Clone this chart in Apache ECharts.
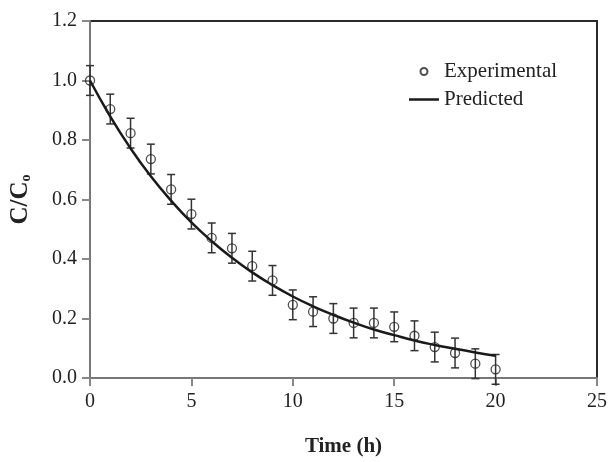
<!DOCTYPE html>
<html>
<head>
<meta charset="utf-8">
<script src="https://cdn.jsdelivr.net/npm/echarts@6/dist/echarts.min.js"></script>
<style>html,body{margin:0;padding:0;background:#fff}#c{width:610px;height:462px}</style>
</head>
<body>
<div id="c"></div>
<script>
const times = [0,1,2,3,4,5,6,7,8,9,10,11,12,13,14,15,16,17,18,19,20];
const experimental = [1.000,0.904,0.823,0.736,0.634,0.551,0.471,0.436,0.376,0.328,0.246,0.223,0.200,0.185,0.185,0.172,0.142,0.104,0.084,0.048,0.029];
const errors = [0.05,0.05,0.05,0.05,0.05,0.05,0.05,0.05,0.05,0.05,0.05,0.05,0.05,0.05,0.05,0.05,0.05,0.05,0.05,0.05,0.05];
const predicted = [1.000,0.879,0.772,0.678,0.596,0.523,0.460,0.404,0.355,0.312,0.274,0.241,0.212,0.186,0.163,0.144,0.126,0.111,0.098,0.086,0.075];
const xTicks = [0,5,10,15,20,25];
const yTicks = [0.0,0.2,0.4,0.6,0.8,1.0,1.2];

const font = 'Liberation Serif';
const chart = echarts.init(document.getElementById('c'), null, {renderer:'canvas'});
const option = {
  backgroundColor:'#fff',
  animation:false,
  grid:{left:87,right:11,top:21,bottom:71,show:true,borderColor:'#2a2a2a',borderWidth:2,backgroundColor:'transparent'},
  legend:{
    orient:'vertical', left:404, top:56, itemWidth:30, itemHeight:7, itemGap:7,
    textStyle:{fontFamily:font,fontSize:21,color:'#222'},
    data:[{name:'Experimental',icon:'emptyCircle',itemStyle:{color:'#222',borderColor:'#222',borderWidth:1.2}},
          {name:'Predicted',icon:'path://M0,0H0.01V0.01H0Z M0,2.3H30V4.7H0Z M0,7H0.01V7.01H0Z',itemStyle:{color:'#1a1a1a'}}]
  },
  xAxis:{
    type:'value', min:xTicks[0], max:xTicks[xTicks.length-1], interval:5,
    name:'Time (h)', nameLocation:'middle', nameGap:58,
    nameTextStyle:{fontFamily:font,fontSize:21,fontWeight:'bold',color:'#222'},
    axisLine:{show:true,lineStyle:{color:'#777',width:2}},
    axisTick:{show:true,length:8,lineStyle:{color:'#888',width:2}},
    axisLabel:{fontFamily:font,fontSize:20,color:'#222',margin:14},
    splitLine:{show:false}
  },
  yAxis:{
    type:'value', min:yTicks[0], max:yTicks[yTicks.length-1], interval:0.2,
    name:'C/C{s|o}', nameLocation:'middle', nameGap:57,
    nameTextStyle:{fontFamily:font,fontSize:25,fontWeight:'bold',color:'#222',
      rich:{s:{fontFamily:font,fontSize:14,fontWeight:'bold',color:'#222',verticalAlign:'bottom',padding:[9,0,0,0]}}},
    axisLine:{show:true,lineStyle:{color:'#777',width:2}},
    axisTick:{show:true,length:8,lineStyle:{color:'#888',width:2}},
    axisLabel:{fontFamily:font,fontSize:20,color:'#222',margin:13,formatter:v=>v.toFixed(1)},
    splitLine:{show:false}
  },
  series:[
    {
      name:'errorbars', type:'custom',
      data: times.map((t,i)=>[t, experimental[i]-errors[i], experimental[i]+errors[i]]),
      renderItem:function(params, api){
        const lo = api.coord([api.value(0), api.value(1)]);
        const hi = api.coord([api.value(0), api.value(2)]);
        const w = 4;
        const st = {stroke:'#333', lineWidth:1.5, fill:null};
        return {type:'group', children:[
          {type:'line', shape:{x1:hi[0],y1:hi[1],x2:lo[0],y2:lo[1]}, style:st},
          {type:'line', shape:{x1:hi[0]-w,y1:hi[1],x2:hi[0]+w,y2:hi[1]}, style:st},
          {type:'line', shape:{x1:lo[0]-w,y1:lo[1],x2:lo[0]+w,y2:lo[1]}, style:st}
        ]};
      },
      z:3, silent:true
    },
    {
      name:'Predicted', type:'line', smooth:true, symbol:'none',
      data: times.map((t,i)=>[t, predicted[i]]),
      lineStyle:{color:'#1a1a1a',width:2.5}, itemStyle:{color:'#1a1a1a'}, z:4
    },
    {
      name:'Experimental', type:'scatter', symbol:'circle', symbolSize:9,
      data: times.map((t,i)=>[t, experimental[i]]),
      itemStyle:{color:'rgba(255,255,255,0)',borderColor:'#222',borderWidth:1.3}, z:5
    }
  ]
};
chart.setOption(option);
</script>
</body>
</html>
